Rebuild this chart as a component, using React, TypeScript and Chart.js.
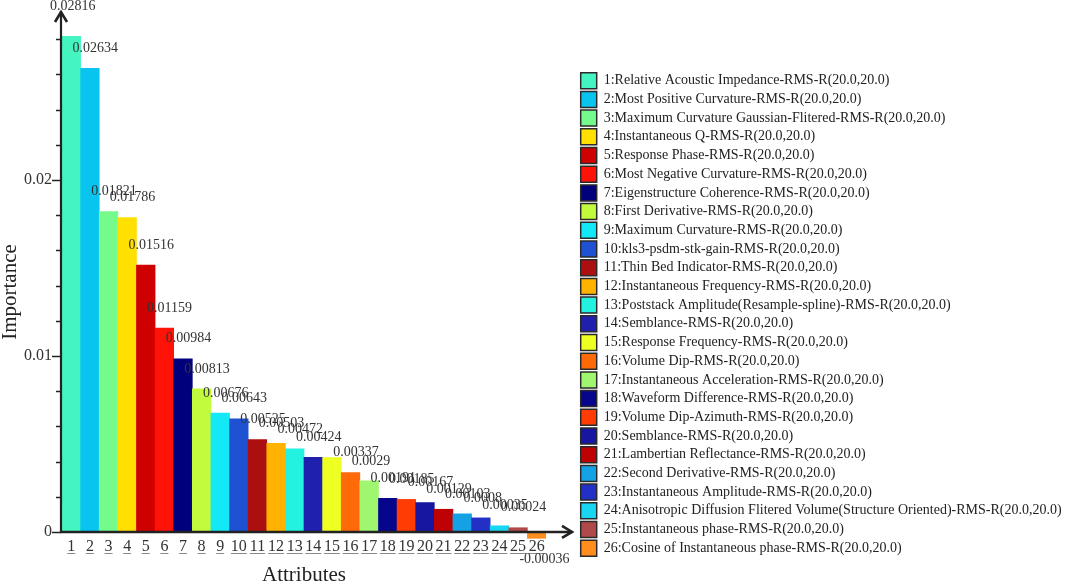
import React, { useEffect, useRef } from 'react';
import { Chart, registerables } from 'chart.js';

Chart.register(...registerables);

const FONT = '"Liberation Serif", "Times New Roman", serif';

const categories = ['1', '2', '3', '4', '5', '6', '7', '8', '9', '10', '11', '12', '13', '14', '15', '16', '17', '18', '19', '20', '21', '22', '23', '24', '25', '26'];

const attributeNames = [
  'Relative Acoustic Impedance-RMS-R(20.0,20.0)',
  'Most Positive Curvature-RMS-R(20.0,20.0)',
  'Maximum Curvature Gaussian-Flitered-RMS-R(20.0,20.0)',
  'Instantaneous Q-RMS-R(20.0,20.0)',
  'Response Phase-RMS-R(20.0,20.0)',
  'Most Negative Curvature-RMS-R(20.0,20.0)',
  'Eigenstructure Coherence-RMS-R(20.0,20.0)',
  'First Derivative-RMS-R(20.0,20.0)',
  'Maximum Curvature-RMS-R(20.0,20.0)',
  'kls3-psdm-stk-gain-RMS-R(20.0,20.0)',
  'Thin Bed Indicator-RMS-R(20.0,20.0)',
  'Instantaneous Frequency-RMS-R(20.0,20.0)',
  'Poststack Amplitude(Resample-spline)-RMS-R(20.0,20.0)',
  'Semblance-RMS-R(20.0,20.0)',
  'Response Frequency-RMS-R(20.0,20.0)',
  'Volume Dip-RMS-R(20.0,20.0)',
  'Instantaneous Acceleration-RMS-R(20.0,20.0)',
  'Waveform Difference-RMS-R(20.0,20.0)',
  'Volume Dip-Azimuth-RMS-R(20.0,20.0)',
  'Semblance-RMS-R(20.0,20.0)',
  'Lambertian Reflectance-RMS-R(20.0,20.0)',
  'Second Derivative-RMS-R(20.0,20.0)',
  'Instantaneous Amplitude-RMS-R(20.0,20.0)',
  'Anisotropic Diffusion Flitered Volume(Structure Oriented)-RMS-R(20.0,20.0)',
  'Instantaneous phase-RMS-R(20.0,20.0)',
  'Cosine of Instantaneous phase-RMS-R(20.0,20.0)',
];

const importance = [
  0.02816, 0.02634, 0.01821, 0.01786, 0.01516, 0.01159, 0.00984, 0.00813, 0.00676, 0.00643,
  0.00525, 0.00503, 0.00472, 0.00424, 0.00422, 0.00337, 0.0029, 0.00191, 0.00185, 0.00167,
  0.00129, 0.00103, 0.0008, 0.00035, 0.00024, -0.00036,
];

const valueLabels = [
  '0.02816', '0.02634', '0.01821', '0.01786', '0.01516', '0.01159', '0.00984', '0.00813', '0.00676', '0.00643',
  '0.00525', '0.00503', '0.00472', '0.00424', '', '0.00337', '0.0029', '0.00191', '0.00185', '0.00167',
  '0.00129', '0.00103', '0.0008', '0.00035', '0.00024', '-0.00036',
];

const barColors = [
  '#44F5C2', '#08C4EE', '#74FB8C', '#FFE000', '#CF0000', '#FF1208', '#00007C', '#C2FA3C', '#12E8F6', '#1E52D2',
  '#AC0F10', '#FFB300', '#24F2E0', '#2020AE', '#EEFF22', '#FF6A08', '#9EF76E', '#06068C', '#FF3C04', '#1616A0',
  '#BE0204', '#14A2E4', '#2230C6', '#18D6F2', '#B04A4A', '#FF8E1E',
];

const yTickValues = [0, 0.002, 0.004, 0.006, 0.008, 0.01, 0.012, 0.014, 0.016, 0.018, 0.02, 0.022, 0.024, 0.026, 0.028];
const yLabeledValues = [0, 0.01, 0.02];
const yTickLabels = ['0', '0.01', '0.02'];

const Y_MIN = -0.0004;
const Y_MAX = 0.0296;

const labeledIndex = (v: number) => yLabeledValues.findIndex((m) => Math.abs(m - v) < 1e-9);

const decorPlugin = {
  id: 'decor',
  afterDatasetsDraw(chart: any) {
    const { ctx, chartArea, scales } = chart;
    const x = scales.x;
    const y = scales.y;
    const y0 = y.getPixelForValue(0);
    const axisX = chartArea.left - 1;
    const topY = y.getPixelForValue(Y_MAX);
    const xEnd = chartArea.right + 26;

    ctx.save();
    ctx.strokeStyle = '#222';
    ctx.lineCap = 'butt';

    // y tick marks
    ctx.lineWidth = 1.5;
    ctx.beginPath();
    y.ticks.forEach((t: any) => {
      const py = Math.round(y.getPixelForValue(t.value)) + 0.5;
      const len = labeledIndex(t.value) >= 0 ? 9 : 5;
      ctx.moveTo(axisX - len, py);
      ctx.lineTo(axisX, py);
    });
    ctx.stroke();

    // y axis line + arrow
    ctx.lineWidth = 2.2;
    ctx.beginPath();
    ctx.moveTo(axisX, y0 + 1);
    ctx.lineTo(axisX, topY);
    ctx.stroke();
    ctx.lineWidth = 2.6;
    ctx.lineJoin = 'miter';
    ctx.beginPath();
    ctx.moveTo(axisX - 6, topY + 11);
    ctx.lineTo(axisX, topY + 1);
    ctx.lineTo(axisX + 6, topY + 11);
    ctx.stroke();

    // x axis line + arrow
    ctx.lineWidth = 2.4;
    ctx.beginPath();
    ctx.moveTo(axisX - 1, y0);
    ctx.lineTo(xEnd, y0);
    ctx.stroke();
    ctx.lineWidth = 2.6;
    ctx.beginPath();
    ctx.moveTo(xEnd - 10, y0 - 6);
    ctx.lineTo(xEnd, y0);
    ctx.lineTo(xEnd - 10, y0 + 6);
    ctx.stroke();

    // underline x tick labels
    ctx.font = '16px ' + FONT;
    ctx.strokeStyle = '#8a8a8a';
    ctx.lineWidth = 1;
    ctx.beginPath();
    categories.forEach((c, i) => {
      const px = x.getPixelForTick(i);
      const w = ctx.measureText(c).width;
      const uy = chartArea.bottom + 14.5;
      ctx.moveTo(px - w / 2, uy);
      ctx.lineTo(px + w / 2, uy);
    });
    ctx.stroke();

    // value labels
    ctx.font = '14px ' + FONT;
    ctx.fillStyle = '#333';
    ctx.textAlign = 'left';
    ctx.textBaseline = 'middle';
    const meta = chart.getDatasetMeta(0);
    meta.data.forEach((bar: any, i: number) => {
      const text = valueLabels[i];
      if (!text) return;
      const p = bar.getProps(['x', 'y', 'width'], true);
      const leftEdge = p.x - p.width / 2;
      let tx = leftEdge - 8;
      let ty = importance[i] >= 0 ? p.y - 20 : p.y + 21;
      // keep the label clear of the y-axis arrow head
      if (tx < axisX + 8 && ty - 7 < topY + 12) {
        ty = topY - 5;
        tx = axisX - 11;
      }
      ctx.fillText(text, tx, ty);
    });

    // y axis title
    ctx.font = '21px ' + FONT;
    ctx.fillStyle = '#222';
    ctx.textAlign = 'center';
    ctx.translate(10, (chartArea.top + chartArea.bottom) / 2 + 17);
    ctx.rotate(-Math.PI / 2);
    ctx.fillText('Importance', 0, 0);
    ctx.restore();
  },
};

export default function App() {
  const canvasRef = useRef<HTMLCanvasElement | null>(null);

  useEffect(() => {
    if (!canvasRef.current) return;
    Chart.defaults.font.family = FONT;
    const chart = new Chart(canvasRef.current, {
      type: 'bar',
      data: {
        labels: categories,
        datasets: [
          {
            data: importance,
            backgroundColor: barColors,
            borderWidth: 0,
            barPercentage: 1,
            categoryPercentage: 1,
          },
        ],
      },
      options: {
        animation: false,
        responsive: false,
        maintainAspectRatio: false,
        events: [],
        layout: { padding: { top: 11, left: 0, right: 0, bottom: 0 } },
        plugins: {
          tooltip: { enabled: false },
          title: { display: false },
          legend: {
            display: true,
            position: 'right',
            align: 'start',
            maxWidth: 487,
            title: {
              display: true,
              text: ' ',
              font: { size: 10, lineHeight: 1 },
              padding: { top: 0, bottom: 49 },
            },
            labels: {
              boxWidth: 16,
              boxHeight: 16,
              padding: 2.7,
              color: '#222',
              font: { size: 14, family: FONT },
              generateLabels: () =>
                attributeNames.map((name, i) => ({
                  text: `${i + 1}:${name}`,
                  fillStyle: barColors[i],
                  strokeStyle: '#2a2a2a',
                  lineWidth: 1.5,
                  hidden: false,
                  index: i,
                  datasetIndex: 0,
                  fontColor: '#222',
                })),
            },
          },
        },
        scales: {
          x: {
            type: 'category',
            offset: true,
            grid: { display: false, drawTicks: false },
            border: { display: false },
            ticks: {
              autoSkip: false,
              maxRotation: 0,
              minRotation: 0,
              padding: -2,
              color: '#333',
              font: { size: 16, family: FONT },
            },
            title: {
              display: true,
              text: 'Attributes',
              color: '#222',
              font: { size: 21, family: FONT, lineHeight: 0.85 },
              padding: { top: 0, bottom: 0 },
            },
            afterFit: (s: any) => {
              s.height = 45;
            },
          },
          y: {
            type: 'linear',
            position: 'left',
            min: Y_MIN,
            max: Y_MAX,
            grid: { display: false, drawTicks: true, tickLength: 10 },
            border: { display: false },
            afterBuildTicks: (s: any) => {
              s.ticks = yTickValues.map((v) => ({ value: v }));
            },
            ticks: {
              autoSkip: false,
              padding: 0,
              color: '#333',
              font: { size: 16, family: FONT },
              callback: (v: any) => {
                const idx = labeledIndex(Number(v));
                return idx >= 0 ? yTickLabels[idx] : '';
              },
            },
            afterFit: (s: any) => {
              s.width = 62;
              s.paddingTop = 0;
              s.paddingBottom = 0;
            },
          },
          y2: {
            type: 'linear',
            position: 'right',
            display: true,
            grid: { display: false, drawTicks: false },
            border: { display: false },
            ticks: { display: false },
            afterFit: (s: any) => {
              s.width = 32;
              s.paddingTop = 0;
              s.paddingBottom = 0;
            },
          },
        },
      },
      plugins: [decorPlugin],
    } as any);
    return () => chart.destroy();
  }, []);

  return (
    <div style={{ position: 'absolute', left: 0, top: 0, width: 1065, height: 584, background: '#fff' }}>
      <canvas ref={canvasRef} width={1065} height={584} style={{ width: 1065, height: 584, display: 'block' }} />
    </div>
  );
}
